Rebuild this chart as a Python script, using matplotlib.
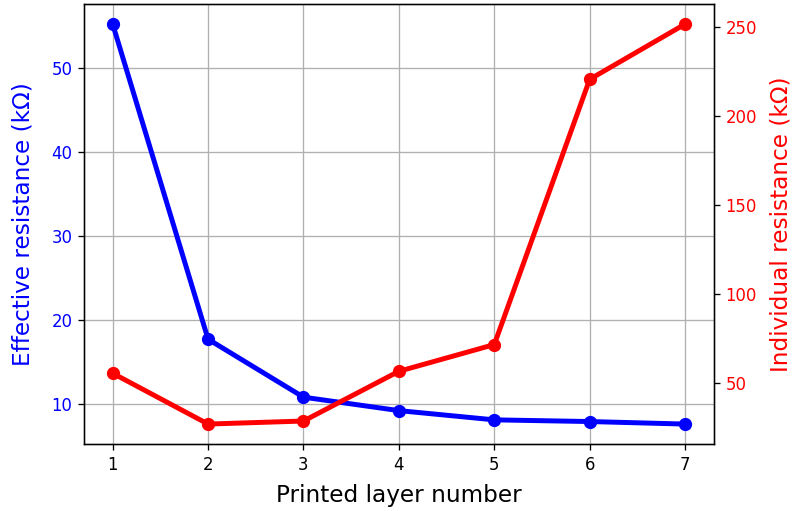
import matplotlib.pyplot as plt
import numpy as np

# data
layers = np.array([1, 2, 3, 4, 5, 6, 7])
effective_kohm = np.array([55.2, 17.7, 10.8, 9.2, 8.1, 7.9, 7.6])
individual_kohm = np.array([55.6, 27.1, 28.8, 56.7, 71.7, 220.5, 251.5])

fig, ax1 = plt.subplots(figsize=(793 / 119, 511 / 119), dpi=119)
fig.subplots_adjust(left=0.106, right=0.9, top=0.992, bottom=0.131)

ax1.plot(layers, effective_kohm, 'o-', color='blue', lw=3, ms=7)
ax1.set_xlabel('Printed layer number', fontsize=14, labelpad=6)
ax1.set_ylabel('Effective resistance (kΩ)', color='blue', fontsize=14, labelpad=10)
ax1.tick_params(axis='y', labelcolor='blue')
ax1.grid(True)

ax2 = ax1.twinx()
ax2.plot(layers, individual_kohm, 'o-', color='red', lw=3, ms=7)
ax2.set_ylabel('Individual resistance (kΩ)', color='red', fontsize=14, labelpad=7.5)
ax2.tick_params(axis='y', labelcolor='red')

fig.savefig('out.png', dpi=119)
